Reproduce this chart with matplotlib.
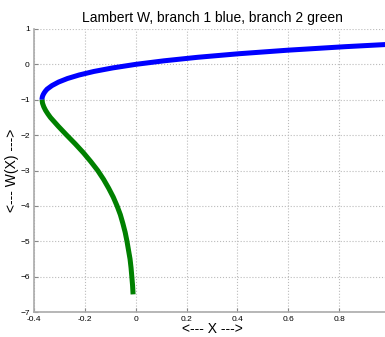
import numpy as np
import matplotlib.pyplot as plt

# values (x, W(x))
w_branch1 = [-1.0, -0.97, -0.93, -0.9, -0.85, -0.8, -0.75, -0.7, -0.6, -0.5, -0.4,
             -0.3, -0.2, -0.1, 0.0, 0.1, 0.2, 0.3, 0.4, 0.5, 0.567]
x_branch1 = [-0.368, -0.368, -0.367, -0.366, -0.363, -0.359, -0.354, -0.348, -0.329,
             -0.303, -0.268, -0.222, -0.164, -0.090, 0.0, 0.111, 0.244, 0.405,
             0.597, 0.824, 1.0]

w_branch2 = [-1.0, -1.05, -1.1, -1.2, -1.3, -1.4, -1.5, -1.75, -2.0, -2.25, -2.5,
             -2.75, -3.0, -3.25, -3.5, -3.75, -4.0, -4.25, -4.5, -4.75, -5.0, -5.25,
             -5.5, -5.75, -6.0, -6.25, -6.5]
x_branch2 = [-0.368, -0.367, -0.366, -0.361, -0.354, -0.345, -0.335, -0.304, -0.271,
             -0.237, -0.205, -0.176, -0.149, -0.126, -0.106, -0.088, -0.073, -0.060,
             -0.050, -0.041, -0.034, -0.028, -0.022, -0.018, -0.015, -0.012, -0.010]

xticks = [-0.4, -0.2, 0, 0.2, 0.4, 0.6, 0.8]
yticks = [1, 0, -1, -2, -3, -4, -5, -6, -7]

plt.rcParams['font.family'] = ['Liberation Sans', 'DejaVu Sans']

fig = plt.figure(figsize=(3.85, 3.37), dpi=100)
ax = fig.add_axes([0.088, 0.074, 0.925, 0.840])

ax.plot(x_branch1, w_branch1, color="blue", lw=3.6, solid_capstyle="butt")
ax.plot(x_branch2, w_branch2, color="green", lw=3.6, solid_capstyle="butt")

ax.set_xlim(-0.4, 1.0)
ax.set_ylim(-7, 1)
ax.set_xticks(xticks)
ax.set_yticks(yticks)
ax.set_xticklabels([f"{t:g}" for t in xticks])
ax.tick_params(labelsize=6, length=3, direction="in", color="#888888", pad=3)
ax.grid(True, linestyle=":", color="#bbbbbb", linewidth=0.8)

for side in ["top", "right"]:
    ax.spines[side].set_visible(False)
for side in ["left", "bottom"]:
    ax.spines[side].set_color("#aaaaaa")
    ax.spines[side].set_linewidth(1.2)

ax.set_title("Lambert W, branch 1 blue, branch 2 green", fontsize=10, pad=5)
ax.set_xlabel("<--- X --->", fontsize=10, labelpad=-1)
ax.set_ylabel("<--- W(X) --->", fontsize=10, labelpad=1)

fig.savefig("out.png", dpi=100)
